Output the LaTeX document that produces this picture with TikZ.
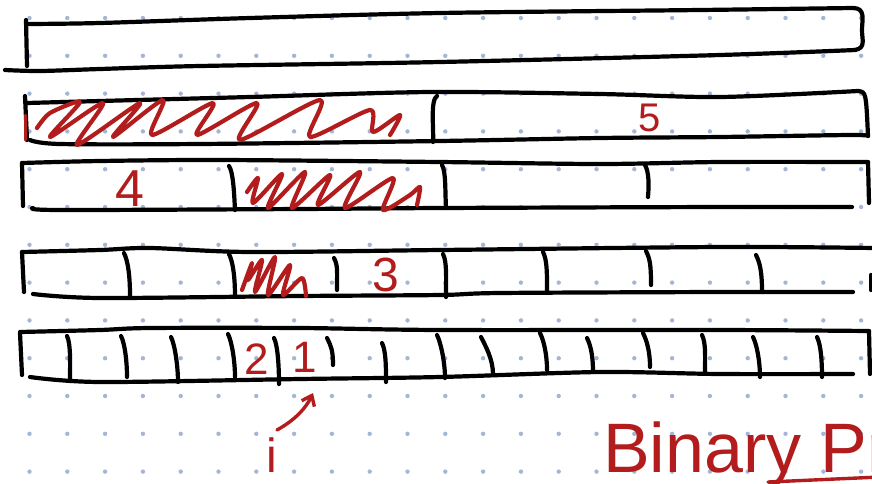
\documentclass[tikz,border=0pt]{standalone}
\usepackage{fontspec}
\setmainfont{Liberation Sans}
\usetikzlibrary{arrows.meta}
\definecolor{inkred}{RGB}{178,28,28}
\definecolor{dotc}{RGB}{165,181,214}
\tikzset{
  ink/.style={line width=4.2pt, line cap=round, line join=round, black},
  redink/.style={line width=4.2pt, line cap=round, line join=round, inkred},
  divider/.style={ink},
  lbl/.style={inkred, inner sep=0pt},
}
\begin{document}
\begin{tikzpicture}[x=1pt,y=-1pt]
\useasboundingbox (0,0) rectangle (872,483);
\clip (0,0) rectangle (872,483);
% dot grid
\foreach \i in {0,...,22}
  \foreach \j in {0,...,12}
    \fill[dotc] (29.5+37.8*\i, 18+37.8*\j) circle (2.2);

% ---------- bar 1 ----------
\draw[ink] plot[smooth] coordinates {(27,24) (100,23) (250,18) (440,13) (700,10) (853,8)}
  .. controls (866,8) and (862,20) .. (862,30)
  .. controls (862,40) and (866,48) .. (855,50);
\draw[ink] plot[smooth] coordinates {(855,50) (720,55) (440,62) (200,66) (100,69) (40,71) (5,70)};
\draw[ink] (26,20) -- (27,66);

% ---------- bar 2 ----------
\draw[ink] plot[smooth] coordinates {(27,103) (100,101) (250,97) (430,92) (600,94) (720,97) (858,91)}
  .. controls (866,92) .. (868,136);
\draw[ink] plot[smooth] coordinates {(868,136) (850,135) (720,137) (600,138) (440,141) (200,144) (60,144) (30,140)};
\draw[ink] (25,96) -- (27,140);
\draw[divider] (437,96) .. controls (430,100) and (434,130) .. (433,142);
\draw[line width=3pt, inkred, line cap=round] (25,115) -- (25,140);

% ---------- bar 3 ----------
\draw[ink] plot[smooth] coordinates {(22,163) (100,161) (220,160) (440,162) (600,164) (720,162) (868,162)};
\draw[ink] (868,162) -- (869,203);
\draw[ink] plot[smooth] coordinates {(852,207) (720,207) (440,208) (300,209) (60,210) (33,208)};
\draw[ink] (22,163) -- (23,206);
\draw[divider] (229,166) .. controls (233,172) and (234,190) .. (235,210);
\draw[divider] (442,165) .. controls (446,172) and (445,190) .. (446,208);
\draw[divider] (645,165) .. controls (649,172) and (649,185) .. (648,197);

% ---------- bar 4 ----------
\draw[ink] plot[smooth] coordinates {(22,252) (100,250) (150,248) (250,252) (440,250) (720,247) (875,248)};
\draw[ink] plot[smooth] coordinates {(853,292) (720,292) (500,293) (440,295) (300,296) (100,298) (33,294)};
\draw[ink] (22,252) -- (24,292);
\draw[ink] (871,275) -- (871,290);
\foreach \xa/\ya/\xb/\yb in {124/253/130/296, 229/254/235/297, 334/258/337/290, 443/254/446/297,
                             543/252/547/291, 646/251/651/285, 756/255/762/292}
  \draw[divider] (\xa,\ya) .. controls (\xa+4,\ya+8) and (\xb,\yb-20) .. (\xb,\yb);

% ---------- bar 5 ----------
\draw[ink] plot[smooth] coordinates {(20,332) (100,330) (150,328) (300,328) (440,330) (720,330) (869,331)};
\draw[ink] (869,331) -- (870,374);
\draw[ink] plot[smooth] coordinates {(853,374) (720,374) (600,372) (440,377) (300,379) (100,382) (30,377)};
\draw[ink] (20,333) -- (22,375);
\foreach \xa/\ya/\xb/\yb in {67/336/70/381, 121/336/127/377, 171/337/178/382, 228/334/235/377,
                             274/338/279/384, 327/338/333/365, 382/343/386/382, 437/335/445/378,
                             481/337/493/374, 540/333/547/370, 587/338/593/372, 643/333/650/367,
                             702/335/705/372, 753/337/760/377, 817/337/822/377}
  \draw[divider] (\xa,\ya) .. controls (\xa+4,\ya+8) and (\xb,\yb-15) .. (\xb,\yb);

% ---------- red scribbles ----------
\draw[redink] plot[smooth, tension=0.45] coordinates {
  (37,128) (50,113) (80,102) (50,137) (103,103) (77,145) (140,103) (113,137)
  (163,100) (152,135) (213,103) (197,135) (257,103) (240,140) (320,100) (310,137)
  (370,110) (373,132) (400,115) (390,135)};
\draw[redink] plot[smooth, tension=0.45] coordinates {
  (247,192) (258,178) (253,203) (282,174) (268,208) (305,172) (292,208) (330,175)
  (318,205) (360,172) (345,208) (393,178) (383,210) (410,195) (420,187) (417,205)};
\draw[redink] plot[smooth, tension=0.45] coordinates {
  (242,290) (252,263) (248,280) (262,260) (255,292) (275,257) (268,295) (290,265)
  (283,295) (302,278) (306,296)};

% ---------- labels ----------
\node[lbl, anchor=base, font=\fontsize{40}{40}\selectfont] (n5) at (650,131) {5};
\node[lbl, anchor=base, font=\fontsize{52}{52}\selectfont] (n4) at (130,206) {4};
\node[lbl, anchor=base, font=\fontsize{48}{48}\selectfont] (n3) at (386,291) {3};
\node[lbl, anchor=base, font=\fontsize{44}{44}\selectfont] (n2) at (257,374) {2};
\node[lbl, anchor=base, font=\fontsize{44}{44}\selectfont] (n1) at (305,372) {1};
\node[lbl, anchor=base, font=\fontsize{48}{48}\selectfont] (ilabel) at (272,472) {i};
\coordinate (arrowstart) at (277,430);
\coordinate (arrowtip) at (313,393);
\draw[redink, line width=3.4pt, -{Straight Barb[length=9pt, width=14pt]}] (arrowstart) .. controls (295,420) and (306,408) .. (arrowtip);

\node[lbl, anchor=base west, font=\fontsize{70}{70}\selectfont] (title) at (603,472) {Binary Pr};
\coordinate (ulstart) at (768,482);
\coordinate (ulend) at (880,477);
\draw[redink, line width=3.4pt] (ulstart) -- (ulend);
\end{tikzpicture}
\end{document}
